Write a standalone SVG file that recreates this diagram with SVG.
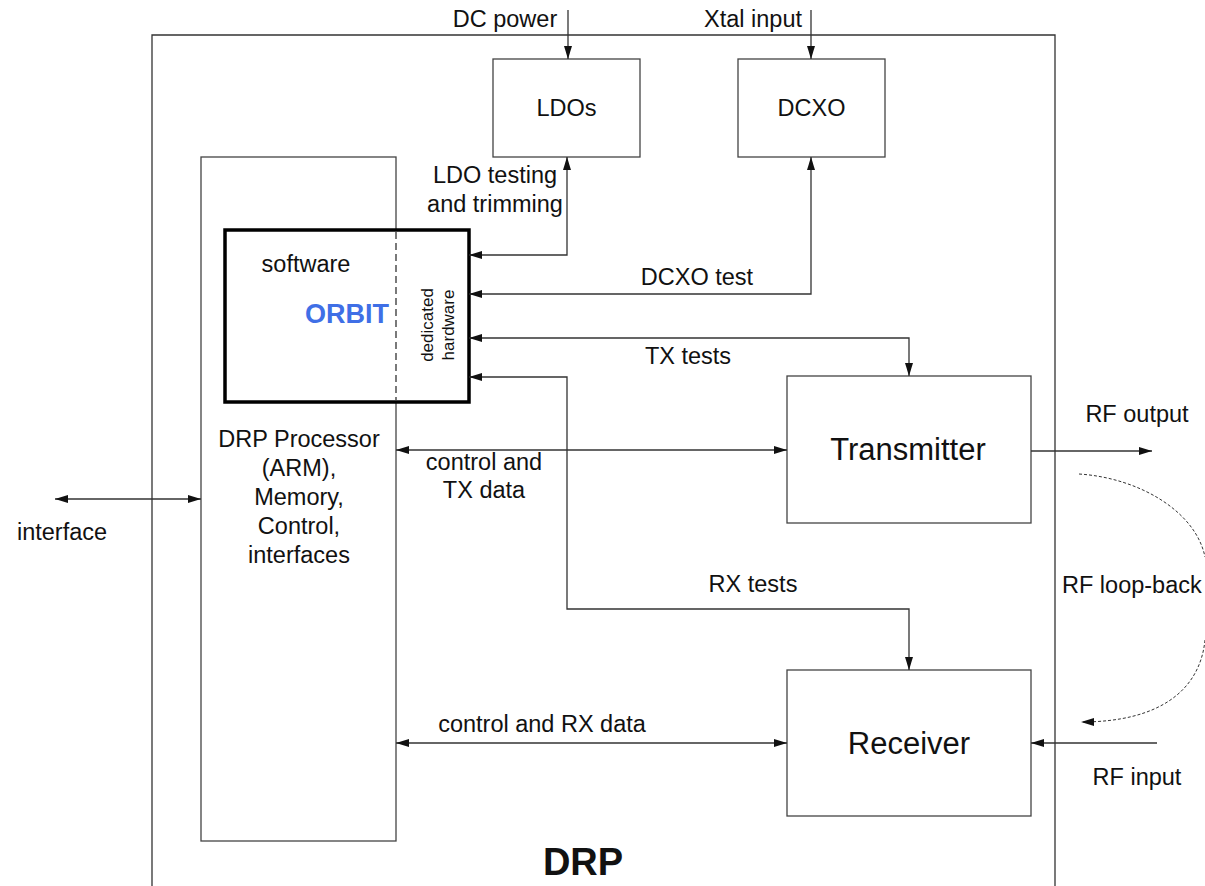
<svg xmlns="http://www.w3.org/2000/svg" width="1205" height="886" viewBox="0 0 1205 886">
<defs>
<marker id="arr" markerUnits="userSpaceOnUse" markerWidth="13" markerHeight="8" refX="13" refY="4" orient="auto-start-reverse">
<path d="M0,0 L13,4 L0,8 z" fill="#111"/>
</marker>
<style>
.box{fill:#fff;stroke:#444;stroke-width:1.3}
.ln{fill:none;stroke:#333;stroke-width:1.3}
.dash{fill:none;stroke:#333;stroke-width:1;stroke-dasharray:3,2}
.t{font-family:"Liberation Sans",Arial,sans-serif;font-size:23.5px;fill:#111}
.big{font-family:"Liberation Sans",Arial,sans-serif;font-size:31px;fill:#111}
</style>
</defs>
<rect width="1205" height="886" fill="#fff"/>
<g id="drp">
<path d="M152,886 V35 H1055 V886" class="ln" stroke="#555"/>
<text x="583" y="875" text-anchor="middle" style="font-family:'Liberation Sans',Arial,sans-serif;font-size:38px;font-weight:bold;fill:#111">DRP</text>
</g>
<g id="ldos">
<rect x="493" y="59" width="147" height="98" class="box"/>
<text x="566.5" y="116" text-anchor="middle" class="t">LDOs</text>
</g>
<g id="dcxo">
<rect x="738" y="59" width="147" height="98" class="box"/>
<text x="811.5" y="116" text-anchor="middle" class="t">DCXO</text>
</g>
<g id="processor">
<rect x="201" y="157" width="195" height="684" class="box"/>
<text text-anchor="middle" class="t"><tspan x="299" y="447">DRP Processor</tspan><tspan x="299" y="476">(ARM),</tspan><tspan x="299" y="505">Memory,</tspan><tspan x="299" y="534">Control,</tspan><tspan x="299" y="563">interfaces</tspan></text>
</g>
<g id="orbit">
<rect x="225" y="230" width="244" height="172" fill="#fff" stroke="#000" stroke-width="3.5"/>
<line x1="396" y1="232" x2="396" y2="400" stroke="#333" stroke-width="1.3" stroke-dasharray="7,4"/>
<text x="306" y="272" text-anchor="middle" class="t">software</text>
<text x="347" y="323" text-anchor="middle" style="font-family:'Liberation Sans',Arial,sans-serif;font-size:27px;font-weight:bold;fill:#3f6fe6">ORBIT</text>
<text transform="translate(433,325) rotate(-90)" text-anchor="middle" style="font-family:'Liberation Sans',Arial,sans-serif;font-size:17px;fill:#111">dedicated</text>
<text transform="translate(454,325) rotate(-90)" text-anchor="middle" style="font-family:'Liberation Sans',Arial,sans-serif;font-size:17px;fill:#111">hardware</text>
</g>
<g id="transmitter">
<rect x="787" y="376" width="244" height="147" class="box"/>
<text x="908" y="460" text-anchor="middle" class="big">Transmitter</text>
</g>
<g id="receiver">
<rect x="787" y="670" width="244" height="146" class="box"/>
<text x="909" y="754" text-anchor="middle" class="big">Receiver</text>
</g>
<g id="connectors">
<path d="M568,10 V59" class="ln" marker-end="url(#arr)"/>
<path d="M811,10 V59" class="ln" marker-end="url(#arr)"/>
<path d="M469,255 H567 V157" class="ln" marker-start="url(#arr)" marker-end="url(#arr)"/>
<path d="M469,294 H811 V157" class="ln" marker-start="url(#arr)" marker-end="url(#arr)"/>
<path d="M469,338 H909 V376" class="ln" marker-start="url(#arr)" marker-end="url(#arr)"/>
<path d="M469,377 H567 V609 H909 V670" class="ln" marker-start="url(#arr)" marker-end="url(#arr)"/>
<path d="M396,450 H787" class="ln" marker-start="url(#arr)" marker-end="url(#arr)"/>
<path d="M396,743 H787" class="ln" marker-start="url(#arr)" marker-end="url(#arr)"/>
<path d="M55,499 H201" class="ln" marker-start="url(#arr)" marker-end="url(#arr)"/>
<path d="M1031,451 H1152" class="ln" marker-end="url(#arr)"/>
<path d="M1157,743 H1031" class="ln" marker-end="url(#arr)"/>
<path d="M1079,474 C1140,478 1196,512 1205,557" class="dash"/>
<path d="M1205,640 C1200,690 1160,722 1081,722" class="dash" marker-end="url(#arr)"/>
<text x="505" y="27" text-anchor="middle" class="t">DC power</text>
<text x="753" y="27" text-anchor="middle" class="t">Xtal input</text>
<text x="495" y="183" text-anchor="middle" class="t">LDO testing</text>
<text x="495" y="212" text-anchor="middle" class="t">and trimming</text>
<text x="697" y="285" text-anchor="middle" class="t">DCXO test</text>
<text x="688" y="364" text-anchor="middle" class="t">TX tests</text>
<text x="484" y="470" text-anchor="middle" class="t">control and</text>
<text x="484" y="498" text-anchor="middle" class="t">TX data</text>
<text x="753" y="592" text-anchor="middle" class="t">RX tests</text>
<text x="542" y="732" text-anchor="middle" class="t">control and RX data</text>
<text x="62" y="540" text-anchor="middle" class="t">interface</text>
<text x="1137" y="422" text-anchor="middle" class="t">RF output</text>
<text x="1137" y="785" text-anchor="middle" class="t">RF input</text>
<text x="1062" y="593" class="t">RF loop-back</text>
</g>
</svg>
